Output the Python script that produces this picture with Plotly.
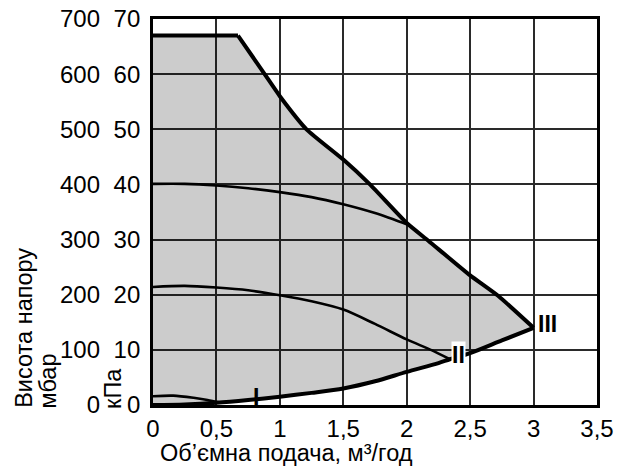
import plotly.graph_objects as go

# ---- data ----
flow_ticks = [0, 0.5, 1, 1.5, 2, 2.5, 3, 3.5]
flow_tick_labels = ["0", "0,5", "1", "1,5", "2", "2,5", "3", "3,5"]
kpa_ticks = [0, 10, 20, 30, 40, 50, 60, 70]
kpa_tick_labels = ["0", "10", "20", "30", "40", "50", "60", "70"]
mbar_ticks = [0, 100, 200, 300, 400, 500, 600, 700]
mbar_tick_labels = ["0", "100", "200", "300", "400", "500", "600", "700"]

# envelope (max curve) in kPa vs m3/h
env_x = [0, 0.67, 0.88, 1.0, 1.21, 1.5, 1.71, 2.0, 2.17, 2.5, 2.72, 3.0]
env_y = [67, 67, 60, 56, 50, 44.5, 40, 33, 29.8, 23.5, 19.8, 14]
# system curve (lower boundary)
sys_x = [0, 0.25, 0.5, 0.75, 1.0, 1.25, 1.5, 1.75, 2.0, 2.25, 2.34, 2.5, 2.75, 3.0]
sys_y = [0, 0.1, 0.4, 0.9, 1.5, 2.2, 3.0, 4.3, 6.0, 7.6, 8.3, 9.4, 11.7, 14]
# speed curves
c3_x = [0, 0.25, 0.5, 0.75, 1.0, 1.25, 1.5, 1.75, 2.02]
c3_y = [40.1, 40.1, 39.8, 39.3, 38.6, 37.7, 36.4, 34.8, 32.6]
c2_x = [0, 0.25, 0.5, 0.75, 1.0, 1.25, 1.5, 1.75, 2.0, 2.2, 2.34]
c2_y = [21.4, 21.6, 21.3, 20.8, 19.9, 18.8, 17.3, 14.7, 11.9, 9.9, 8.3]
c1_x = [0, 0.16, 0.32, 0.43, 0.53]
c1_y = [1.6, 1.7, 1.3, 0.9, 0.45]

FONT = "Liberation Sans, Arial, sans-serif"
TICK = 24
TITLE = 23.5
LBL = 23

fig = go.Figure()

# grey operating area
fig.add_trace(go.Scatter(
    x=env_x + sys_x[::-1], y=env_y + sys_y[::-1],
    fill="toself", fillcolor="rgba(0,0,0,0.2)", mode="none",
    hoverinfo="skip", showlegend=False))

thin = dict(color="black", width=2.6, shape="spline", smoothing=0.8)
fig.add_trace(go.Scatter(x=c1_x, y=c1_y, mode="lines", line=thin, showlegend=False))
fig.add_trace(go.Scatter(x=c2_x, y=c2_y, mode="lines", line=thin, showlegend=False))
fig.add_trace(go.Scatter(x=c3_x, y=c3_y, mode="lines", line=thin, showlegend=False))
fig.add_trace(go.Scatter(x=sys_x, y=sys_y, mode="lines",
                         line=dict(color="black", width=4, shape="spline", smoothing=0.8),
                         showlegend=False))
# envelope: flat part + curved descending part
fig.add_trace(go.Scatter(x=env_x[:2], y=env_y[:2], mode="lines",
                         line=dict(color="black", width=4), showlegend=False))
fig.add_trace(go.Scatter(x=env_x[1:], y=env_y[1:], mode="lines",
                         line=dict(color="black", width=4, shape="spline", smoothing=0.5),
                         showlegend=False))

# invisible trace to carry mbar axis
fig.add_trace(go.Scatter(x=[0, 0], y=[0, 700], yaxis="y2", mode="none",
                         hoverinfo="skip", showlegend=False))

fig.update_layout(
    width=619, height=466,
    margin=dict(l=145, r=30, t=11, b=69, autoexpand=False),
    paper_bgcolor="white", plot_bgcolor="white",
    font=dict(family=FONT, size=TICK, color="black"),
    xaxis=dict(range=[0, 3.5], tickvals=flow_ticks, ticktext=flow_tick_labels,
               showgrid=True, gridcolor="#2a2a2a", gridwidth=1.8,
               showline=True, linecolor="black", linewidth=2.5, mirror=True,
               zeroline=False, ticks="", ticklabelstandoff=0, automargin=False,
               ticklabeloverflow="allow", tickfont=dict(size=TICK)),
    yaxis=dict(range=[0, 70], tickvals=kpa_ticks, ticktext=kpa_tick_labels,
               showgrid=True, gridcolor="#2a2a2a", gridwidth=1.8,
               showline=True, linecolor="black", linewidth=2.8, mirror=True,
               zeroline=False, ticks="", ticklabelstandoff=5, automargin=False,
               ticklabeloverflow="allow", tickfont=dict(size=TICK)),
    yaxis2=dict(range=[0, 700], tickvals=mbar_ticks, ticktext=mbar_tick_labels,
                overlaying="y", anchor="free", position=0, side="left",
                showgrid=False, showline=False, zeroline=False, ticks="",
                ticklabelstandoff=53, automargin=False,
                ticklabeloverflow="allow", tickfont=dict(size=TICK)),
)

# curve labels
fig.add_annotation(x=0.81, y=1.5, text="<b>I</b>", showarrow=False,
                   xanchor="center", yanchor="middle", font=dict(size=LBL))
fig.add_annotation(x=2.35, y=9.0, text="<b>II</b>", showarrow=False,
                   xanchor="left", yanchor="middle", font=dict(size=LBL),
                   bgcolor="white", borderpad=0)
fig.add_annotation(x=3.02, y=14.6, text="<b>III</b>", showarrow=False,
                   xanchor="left", yanchor="middle", font=dict(size=LBL))

# axis titles
fig.add_annotation(xref="paper", yref="paper", x=0.011, y=-0.125,
                   text="Об’ємна подача, м³/год", showarrow=False,
                   xanchor="left", yanchor="middle", font=dict(size=TITLE))
fig.add_annotation(xref="paper", yref="paper", x=-0.2905, y=0.2,
                   text="Висота напору", textangle=-90, showarrow=False,
                   xanchor="center", yanchor="middle", font=dict(size=TITLE))
fig.add_annotation(xref="paper", yref="paper", x=-0.2355, y=0.062,
                   text="мбар", textangle=-90, showarrow=False,
                   xanchor="center", yanchor="middle", font=dict(size=TITLE))
fig.add_annotation(xref="paper", yref="paper", x=-0.089, y=0.043,
                   text="кПа", textangle=-90, showarrow=False,
                   xanchor="center", yanchor="middle", font=dict(size=TITLE))

fig.write_html("out.html")
